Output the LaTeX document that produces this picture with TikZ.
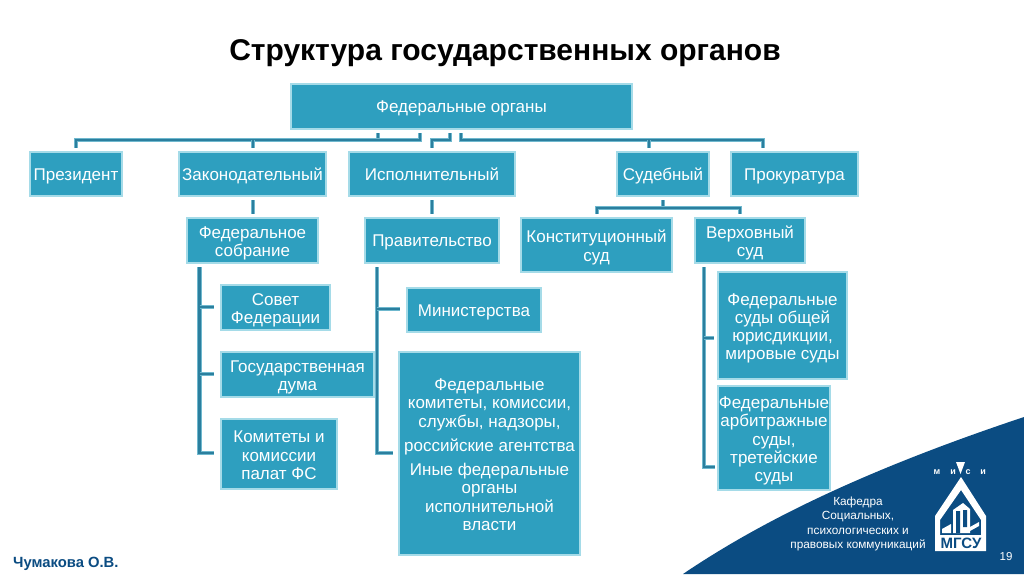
\documentclass[tikz,border=0pt]{standalone}
\usepackage{fontspec}
\setmainfont{Liberation Sans}
\tikzset{
  x=1pt,y=-1pt,
  box/.style={draw=boxedge,fill=boxfill,line width=1.5pt,text=white,inner sep=0pt,align=center,font=\fontsize{17}{18.3}\selectfont},
  link/.style={draw=linkedge,double=linkcore,line width=1pt,double distance=2.6pt},
  labelw/.style={text=white,inner sep=0pt,align=center}
}
\definecolor{boxfill}{HTML}{2E9FBF}
\definecolor{boxedge}{HTML}{A5DBE8}
\definecolor{linkcore}{HTML}{2B7F9E}
\definecolor{linkedge}{HTML}{6FB8CE}
\definecolor{navy}{HTML}{0B4C82}
\newcommand{\bx}[6]{\node[box,minimum width=#4-#2,minimum height=#5-#3] (#1) at ({(#2+#4)/2},{(#3+#5)/2}) {\rule{0pt}{15.6pt}#6\rule[-3.6pt]{0pt}{3.6pt}};}
\newcommand{\bxm}[6]{\node[box,minimum width=#4-#2,minimum height=#5-#3] (#1) at ({(#2+#4)/2},{(#3+#5)/2}) {\rule{0pt}{17.6pt}#6\rule[-3.6pt]{0pt}{3.6pt}};}
\begin{document}
\begin{tikzpicture}
\useasboundingbox (0,0) rectangle (1024,574);
\fill[white] (0,0) rectangle (1024,574);
% swoosh
\fill[navy] (683,574) .. controls (770,515) and (880,465) .. (1024,417) -- (1024,574) -- cycle;
% title
\node[font=\fontsize{30}{32}\selectfont\bfseries,inner sep=0pt] (title) at (505,53) {Структура государственных органов};
% boxes
\bx{fed}{291}{84}{632}{129}{Федеральные органы}
\bx{pres}{30}{152}{122}{196}{Президент}
\bx{zak}{179}{152}{326}{196}{Законодательный}
\bx{isp}{349}{152}{515}{196}{Исполнительный}
\bx{sud}{617}{152}{709}{196}{Судебный}
\bx{pro}{731}{152}{858}{196}{Прокуратура}
\bxm{fs}{187}{218}{318}{263}{Федеральное\\собрание}
\bx{prav}{365}{218}{499}{263}{Правительство}
\bxm{ks}{521}{218}{672}{272}{Конституционный\\суд}
\bxm{vs}{695}{218}{805}{263}{Верховный\\суд}
\bxm{sf}{221}{285}{330}{330}{Совет\\Федерации}
\bxm{gd}{221}{352}{374}{397}{Государственная\\дума}
\bxm{kom}{221}{419}{337}{489}{Комитеты и\\комиссии\\палат ФС}
\bx{min}{407}{288}{541}{332}{Министерства}
\bxm{fk}{399}{352}{580}{555}{Федеральные\\комитеты, комиссии,\\службы, надзоры,\\[6pt]российские агентства\\[6pt]Иные федеральные\\органы\\исполнительной\\власти}
\bxm{fso}{718}{272}{847}{379}{Федеральные\\суды общей\\юрисдикции,\\мировые суды}
\bxm{fas}{718}{386}{830}{490}{Федеральные\\арбитражные\\суды,\\третейские\\суды}
% connectors
\coordinate (a1) at (378,133);\coordinate (a2) at (420,133);\coordinate (a3) at (450,133);\coordinate (a4) at (461,133);
\draw[link] (a1) -- (378,140);
\draw[link] (a2) -- (420,140) -- (76,140) -- (76,148) coordinate (e1);
\draw[link] (253,140) -- (253,148) coordinate (e2);
\draw[link] (a3) -- (450,140) -- (432,140) -- (432,148) coordinate (e3);
\draw[link] (a4) -- (461,140) -- (763,140) -- (763,148) coordinate (e4);
\draw[link] (649,140) -- (649,148) coordinate (e5);
\draw[link] (253,200) coordinate (z1) -- (253,214) coordinate (z2);
\draw[link] (432,200) coordinate (i1) -- (432,214) coordinate (i2);
\draw[link] (663,200) coordinate (s1) -- (663,208);
\draw[link] (597,214) coordinate (s2) -- (597,208) -- (740,208) -- (740,214) coordinate (s3);
\draw[link] (199.5,267) coordinate (f1) -- (199.5,453) -- (214,453) coordinate (f2);
\draw[link] (199.5,307) -- (214,307) coordinate (f3);
\draw[link] (199.5,374) -- (214,374) coordinate (f4);
\draw[link] (377,267) coordinate (p1) -- (377,453) -- (393,453) coordinate (p2);
\draw[link] (377,309) -- (400,309) coordinate (p3);
\draw[link] (704,267) coordinate (v1) -- (704,467) -- (715,467) coordinate (v2);
\draw[link] (704,338) -- (714,338) coordinate (v3);
% logo
\node[labelw,font=\fontsize{11.8}{14.3}\selectfont] (kaf) at (858,524) {Кафедра\\Социальных,\\психологических и\\правовых коммуникаций};
\node[labelw,font=\fontsize{11.5}{12}\selectfont] (page) at (1006,557) {19};
\node[labelw,font=\fontsize{9}{10}\selectfont\bfseries] (m1) at (937,472) {м};
\node[labelw,font=\fontsize{9}{10}\selectfont\bfseries] (m2) at (953,472) {и};
\node[labelw,font=\fontsize{9}{10}\selectfont\bfseries] (m3) at (968,472) {с};
\node[labelw,font=\fontsize{9}{10}\selectfont\bfseries] (m4) at (983,472) {и};
\fill[white] (956,462) -- (965,462) -- (960.5,474) -- cycle;
\fill[white,even odd rule] (961,477) -- (986,516) -- (986,551) -- (935,551) -- (935,516) -- cycle
  (961,490) -- (981,520) -- (981,535) -- (940,535) -- (940,520) -- cycle;
\node[font=\fontsize{15}{16}\selectfont\bfseries,text=navy,inner sep=0pt] (mgsu) at (961,543.5) {МГСУ};
\fill[white] (953,510) -- (963,503) -- (970,509) -- (970,533) -- (953,533) -- cycle;
\fill[navy] (956,511) rectangle (960,533) (963,510) rectangle (967,527);
\fill[white] (942,529) -- (951,524) -- (951,533) -- (942,533) -- cycle;
\fill[white] (970,527) -- (979,522) -- (979,526) -- (970,531) -- cycle;
\node[font=\fontsize{14.8}{16}\selectfont\bfseries,text=navy,inner sep=0pt,anchor=west] (author) at (13,564) {Чумакова О.В.};
\end{tikzpicture}
\end{document}
